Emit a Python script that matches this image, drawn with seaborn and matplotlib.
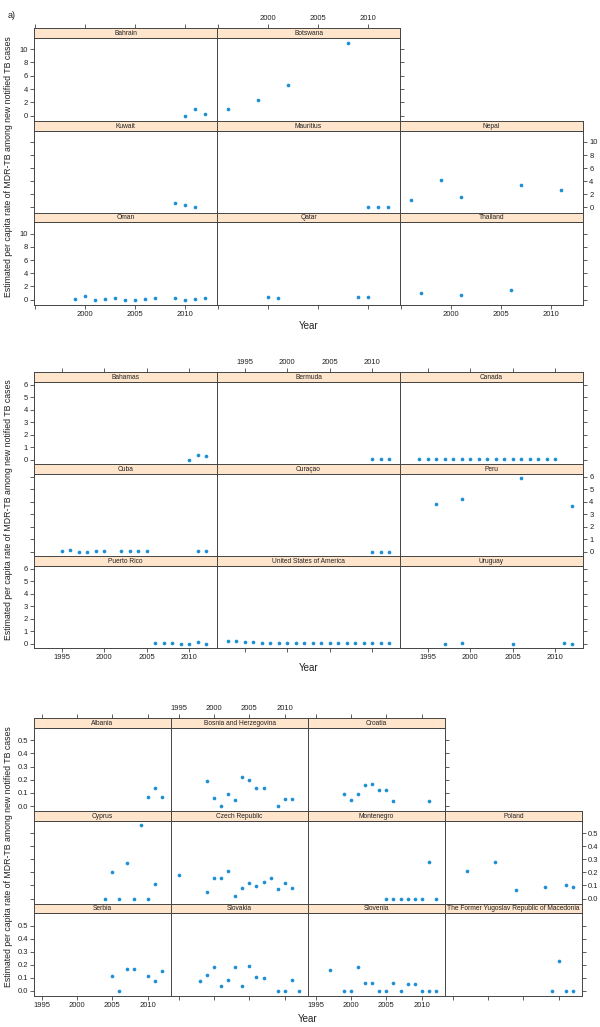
import matplotlib
matplotlib.use("Agg")
import matplotlib.pyplot as plt
import pandas as pd
import seaborn as sns

# --- data: estimated per capita MDR-TB rate among new notified TB cases ---
# a) Asia / Africa
BAHRAIN_YEARS = [2010, 2011, 2012]
BAHRAIN_RATE = [0.0, 1.0, 0.3]
BOTSWANA_YEARS = [1996, 1999, 2002, 2008]
BOTSWANA_RATE = [1.0, 2.3, 4.65, 10.95]
KUWAIT_YEARS = [2009, 2010, 2011]
KUWAIT_RATE = [0.65, 0.4, 0.05]
MAURITIUS_YEARS = [2010, 2011, 2012]
MAURITIUS_RATE = [0.1, 0.1, 0.0]
NEPAL_YEARS = [1996, 1999, 2001, 2007, 2011]
NEPAL_RATE = [1.15, 4.2, 1.5, 3.4, 2.7]
OMAN_YEARS = [1999, 2000, 2001, 2002, 2003, 2004, 2005, 2006, 2007, 2009, 2010, 2011, 2012]
OMAN_RATE = [0.1, 0.5, 0.0, 0.15, 0.2, 0.0, 0.0, 0.15, 0.2, 0.2, 0.0, 0.15, 0.25]
QATAR_YEARS = [2000, 2001, 2009, 2010]
QATAR_RATE = [0.4, 0.2, 0.4, 0.4]
THAILAND_YEARS = [1997, 2001, 2006]
THAILAND_RATE = [1.05, 0.7, 1.4]

# b) Americas
BAHAMAS_YEARS = [2010, 2011, 2012]
BAHAMAS_RATE = [0.0, 0.35, 0.32]
BERMUDA_YEARS = [2010, 2011, 2012]
BERMUDA_RATE = [0.03, 0.03, 0.03]
CANADA_YEARS = list(range(1994, 2011))
CANADA_RATE = [0.06] * 17
CUBA_YEARS = [1995, 1996, 1997, 1998, 1999, 2000, 2002, 2003, 2004, 2005, 2011, 2012]
CUBA_RATE = [0.05, 0.13, 0.0, 0.0, 0.08, 0.03, 0.04, 0.04, 0.02, 0.02, 0.06, 0.06]
CURACAO_YEARS = [2010, 2011, 2012]
CURACAO_RATE = [0.0, 0.0, 0.0]
PERU_YEARS = [1996, 1999, 2006, 2012]
PERU_RATE = [3.84, 4.24, 5.89, 3.65]
PUERTO_RICO_YEARS = [2006, 2007, 2008, 2009, 2010, 2011, 2012]
PUERTO_RICO_RATE = [0.03, 0.08, 0.03, 0.0, 0.0, 0.1, 0.0]
USA_YEARS = list(range(1993, 2013))
USA_RATE = [0.24, 0.19, 0.13, 0.13, 0.08, 0.08, 0.08, 0.08, 0.07, 0.06,
            0.05, 0.05, 0.05, 0.05, 0.05, 0.05, 0.05, 0.03, 0.03, 0.03]
URUGUAY_YEARS = [1997, 1999, 2005, 2011, 2012]
URUGUAY_RATE = [0.0, 0.08, 0.0, 0.06, 0.0]

# c) Europe
ALBANIA_YEARS = [2010, 2011, 2012]
ALBANIA_RATE = [0.07, 0.137, 0.072]
BOSNIA_YEARS = [1999, 2000, 2001, 2002, 2003, 2004, 2005, 2006, 2007, 2009, 2010, 2011]
BOSNIA_RATE = [0.19, 0.062, 0.0, 0.088, 0.046, 0.22, 0.2, 0.134, 0.137, 0.0, 0.057, 0.052]
CROATIA_YEARS = [1999, 2000, 2001, 2002, 2003, 2004, 2005, 2006, 2011]
CROATIA_RATE = [0.095, 0.046, 0.088, 0.162, 0.168, 0.121, 0.121, 0.039, 0.039]
CYPRUS_YEARS = [2004, 2005, 2006, 2007, 2008, 2009, 2010, 2011]
CYPRUS_RATE = [0.0, 0.205, 0.0, 0.275, 0.0, 0.56, 0.0, 0.113]
CZECH_YEARS = [1995, 1999, 2000, 2001, 2002, 2003, 2004, 2005, 2006, 2007, 2008, 2009, 2010, 2011]
CZECH_RATE = [0.178, 0.049, 0.155, 0.155, 0.211, 0.018, 0.082, 0.118, 0.098, 0.124,
              0.16, 0.072, 0.118, 0.08]
MONTENEGRO_YEARS = [2005, 2006, 2007, 2008, 2009, 2010, 2011, 2012]
MONTENEGRO_RATE = [0.0, 0.0, 0.0, 0.0, 0.0, 0.0, 0.283, 0.0]
POLAND_YEARS = [1997, 2001, 2004, 2008, 2011, 2012]
POLAND_RATE = [0.211, 0.283, 0.064, 0.087, 0.103, 0.085]
SERBIA_YEARS = [2005, 2006, 2007, 2008, 2010, 2011, 2012]
SERBIA_RATE = [0.113, 0.0, 0.17, 0.17, 0.111, 0.072, 0.152]
SLOVAKIA_YEARS = [1998, 1999, 2000, 2001, 2002, 2003, 2004, 2005, 2006, 2007, 2009, 2010, 2011, 2012]
SLOVAKIA_RATE = [0.075, 0.118, 0.18, 0.036, 0.08, 0.183, 0.039, 0.193, 0.103, 0.095,
                 0.0, 0.0, 0.08, 0.0]
SLOVENIA_YEARS = [1997, 1999, 2000, 2001, 2002, 2003, 2004, 2005, 2006, 2007, 2008, 2009, 2010, 2011, 2012]
SLOVENIA_RATE = [0.157, 0.0, 0.0, 0.185, 0.059, 0.057, 0.0, 0.0, 0.057, 0.0, 0.052, 0.052,
                 0.0, 0.0, 0.0]
MACEDONIA_YEARS = [2009, 2010, 2011, 2012]
MACEDONIA_RATE = [0.0, 0.229, 0.0, 0.0]

SERIES = {
    "Bahrain": (BAHRAIN_YEARS, BAHRAIN_RATE),
    "Botswana": (BOTSWANA_YEARS, BOTSWANA_RATE),
    "Kuwait": (KUWAIT_YEARS, KUWAIT_RATE),
    "Mauritius": (MAURITIUS_YEARS, MAURITIUS_RATE),
    "Nepal": (NEPAL_YEARS, NEPAL_RATE),
    "Oman": (OMAN_YEARS, OMAN_RATE),
    "Qatar": (QATAR_YEARS, QATAR_RATE),
    "Thailand": (THAILAND_YEARS, THAILAND_RATE),
    "Bahamas": (BAHAMAS_YEARS, BAHAMAS_RATE),
    "Bermuda": (BERMUDA_YEARS, BERMUDA_RATE),
    "Canada": (CANADA_YEARS, CANADA_RATE),
    "Cuba": (CUBA_YEARS, CUBA_RATE),
    "Curaçao": (CURACAO_YEARS, CURACAO_RATE),
    "Peru": (PERU_YEARS, PERU_RATE),
    "Puerto Rico": (PUERTO_RICO_YEARS, PUERTO_RICO_RATE),
    "United States of America": (USA_YEARS, USA_RATE),
    "Uruguay": (URUGUAY_YEARS, URUGUAY_RATE),
    "Albania": (ALBANIA_YEARS, ALBANIA_RATE),
    "Bosnia and Herzegovina": (BOSNIA_YEARS, BOSNIA_RATE),
    "Croatia": (CROATIA_YEARS, CROATIA_RATE),
    "Cyprus": (CYPRUS_YEARS, CYPRUS_RATE),
    "Czech Republic": (CZECH_YEARS, CZECH_RATE),
    "Montenegro": (MONTENEGRO_YEARS, MONTENEGRO_RATE),
    "Poland": (POLAND_YEARS, POLAND_RATE),
    "Serbia": (SERBIA_YEARS, SERBIA_RATE),
    "Slovakia": (SLOVAKIA_YEARS, SLOVAKIA_RATE),
    "Slovenia": (SLOVENIA_YEARS, SLOVENIA_RATE),
    "The Former Yugoslav Republic of Macedonia": (MACEDONIA_YEARS, MACEDONIA_RATE),
}

GRID_A = [["Bahrain", "Botswana"],
          ["Kuwait", "Mauritius", "Nepal"],
          ["Oman", "Qatar", "Thailand"]]
GRID_B = [["Bahamas", "Bermuda", "Canada"],
          ["Cuba", "Curaçao", "Peru"],
          ["Puerto Rico", "United States of America", "Uruguay"]]
GRID_C = [["Albania", "Bosnia and Herzegovina", "Croatia"],
          ["Cyprus", "Czech Republic", "Montenegro", "Poland"],
          ["Serbia", "Slovakia", "Slovenia", "The Former Yugoslav Republic of Macedonia"]]

YLAB = "Estimated per capita rate of MDR-TB among new notified TB cases"

# --- style ---
W, H = 600, 1027
STRIP_H = 9.5
STRIP_CLR = "#FFE5CC"
DOT_CLR = "#1E8FD5"
EDGE_CLR = "#444444"
TXT_CLR = "#222222"

sns.set_theme(style="white")
plt.rcParams["font.family"] = ["Liberation Sans", "DejaVu Sans"]

rows = []
for name, (yrs, vals) in SERIES.items():
    for y, v in zip(yrs, vals):
        rows.append({"country": name, "year": y, "rate": v})
df = pd.DataFrame(rows)

TICK_KW = dict(direction="out", length=3, width=0.6, color=EDGE_CLR,
               labelsize=5.5, labelcolor=TXT_CLR, pad=1.5)


def style_spines(ax):
    for sp in ax.spines.values():
        sp.set_color(EDGE_CLR)
        sp.set_linewidth(0.7)


def draw_block(fig, grid, left, col_w, strip_tops, bottom, xlim, ylim,
               xticks, xlabels, yticks, ylabels, year_y):
    nrows = len(grid)
    for r, row in enumerate(grid):
        top = strip_tops[r] + STRIP_H
        bot = strip_tops[r + 1] if r + 1 < nrows else bottom
        for c, name in enumerate(row):
            x0 = left + c * col_w
            ax = fig.add_axes([x0 / W, 1 - bot / H, col_w / W, (bot - top) / H])
            sub = df[df["country"] == name]
            sns.scatterplot(data=sub, x="year", y="rate", ax=ax, color=DOT_CLR,
                            s=7, linewidth=0, legend=False)
            ax.set_xlim(xlim)
            ax.set_ylim(ylim)
            ax.set_xticks(xticks)
            ax.set_xticklabels(xlabels)
            ax.set_yticks(yticks)
            ax.set_yticklabels(ylabels)
            ax.set_xlabel("")
            ax.set_ylabel("")
            style_spines(ax)
            last = c == len(row) - 1
            ax.tick_params(left=c == 0, labelleft=(c == 0 and r != 1),
                           right=last, labelright=(last and r == 1),
                           top=False, labeltop=False,
                           bottom=r == nrows - 1,
                           labelbottom=(r == nrows - 1 and c % 2 == 0),
                           **TICK_KW)
            # strip with country name; top row carries the top axis ticks
            sax = fig.add_axes([x0 / W, 1 - top / H, col_w / W, STRIP_H / H])
            sax.set_facecolor(STRIP_CLR)
            sax.set_xlim(xlim)
            sax.set_xticks(xticks)
            sax.set_xticklabels(xlabels)
            sax.set_yticks([])
            sax.tick_params(axis="x", top=r == 0, labeltop=(r == 0 and c % 2 == 1),
                            bottom=False, labelbottom=False, **TICK_KW)
            style_spines(sax)
            sax.text(0.5, 0.45, name, ha="center", va="center", fontsize=4.8,
                     color=TXT_CLR, transform=sax.transAxes)
    ncols = max(len(rw) for rw in grid)
    mid_x = left + ncols * col_w / 2
    fig.text(mid_x / W, 1 - year_y / H, "Year", ha="center", va="center",
             fontsize=7, color=TXT_CLR)
    fig.text(9 / W, 1 - (strip_tops[0] + bottom) / 2 / H, YLAB, rotation=90,
             ha="center", va="center", fontsize=6.3, color=TXT_CLR)


fig = plt.figure(figsize=(W / 100, H / 100), dpi=100)
fig.patch.set_facecolor("white")

yr_ticks = [1995, 2000, 2005, 2010]

draw_block(fig, GRID_A, 34, 183, [28, 121, 212.5], 305,
           (1994.9, 2013.15), (-0.8, 11.75),
           yr_ticks, ["", "2000", "2005", "2010"],
           [0, 2, 4, 6, 8, 10], ["0", "2", "4", "6", "8", "10"], 326)

draw_block(fig, GRID_B, 34, 183, [372, 464, 556], 648,
           (1991.7, 2013.3), (-0.35, 6.24),
           yr_ticks, ["1995", "2000", "2005", "2010"],
           [0, 1, 2, 3, 4, 5, 6], ["0", "1", "2", "3", "4", "5", "6"], 668)

draw_block(fig, GRID_C, 34, 137, [718, 811, 903.5], 995.7,
           (1993.9, 2013.3), (-0.038, 0.598),
           yr_ticks, ["1995", "2000", "2005", "2010"],
           [0.0, 0.1, 0.2, 0.3, 0.4, 0.5], ["0.0", "0.1", "0.2", "0.3", "0.4", "0.5"], 1019)

fig.text(12 / W, 1 - 16 / H, "a)", ha="center", va="center", fontsize=6.5, color=TXT_CLR)

fig.savefig("out.png", dpi=100, facecolor="white")
